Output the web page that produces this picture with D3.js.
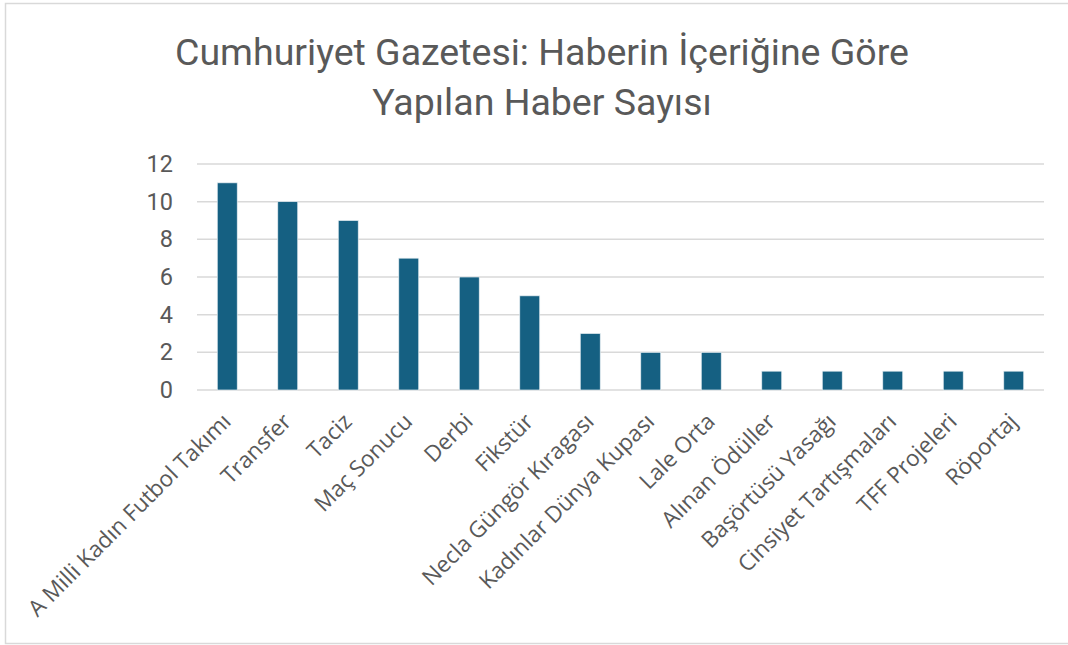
<!DOCTYPE html>
<html>
<head>
<meta charset="utf-8">
<script src="https://cdn.jsdelivr.net/npm/d3@7"></script>
<style>
  body { margin: 0; background: #fff; }
  text { fill: #595959; }
</style>
</head>
<body>
<div id="chart"></div>
<script>
let categories = ['A Milli Kadın Futbol Takımı', 'Transfer', 'Taciz', 'Maç Sonucu', 'Derbi', 'Fikstür',
  'Necla Güngör Kıragası', 'Kadınlar Dünya Kupası', 'Lale Orta', 'Alınan Ödüller', 'Başörtüsü Yasağı',
  'Cinsiyet Tartışmaları', 'TFF Projeleri', 'Röportaj']
let counts = [11, 10, 9, 7, 6, 5, 3, 2, 2, 1, 1, 1, 1, 1]
let yTicks = [0, 2, 4, 6, 8, 10, 12]
let titleLines = ['Cumhuriyet Gazetesi: Haberin İçeriğine Göre', 'Yapılan Haber Sayısı']

let W = 1068, H = 645
let plotLeft = 197, plotRight = 1044, plotTop = 164, plotBottom = 390

let svg = d3.select('#chart').append('svg')
  .attr('width', W)
  .attr('height', H)

// frame (right side runs off the picture)
svg.append('rect')
  .attr('x', 5.5).attr('y', 3.5)
  .attr('width', W + 10).attr('height', H - 5)
  .attr('fill', 'none')
  .attr('stroke', '#d9d9d9')
  .attr('stroke-width', 1.5)

svg.selectAll('text.title')
  .data(titleLines)
  .join('text')
  .attr('class', 'title')
  .attr('x', 542)
  .attr('y', (d, i) => 65 + i * 50)
  .attr('text-anchor', 'middle')
  .style('font-family', 'Roboto, sans-serif')
  .style('font-size', '37.5px')
  .text(d => d)

let x = d3.scaleBand()
  .domain(categories)
  .range([plotLeft, plotRight])
  .paddingInner(0.67)
  .paddingOuter(0.335)

let y = d3.scaleLinear()
  .domain([0, 12])
  .range([plotBottom, plotTop])

// gridlines
svg.append('g')
  .selectAll('line')
  .data(yTicks)
  .join('line')
  .attr('x1', plotLeft).attr('x2', plotRight)
  .attr('y1', d => y(d)).attr('y2', d => y(d))
  .attr('stroke', '#d9d9d9')
  .attr('stroke-width', 1.5)

// y axis labels
let yAxis = svg.append('g')
  .attr('transform', `translate(${plotLeft},0)`)
  .call(d3.axisLeft(y).tickValues(yTicks).tickSize(0).tickPadding(24))
yAxis.select('.domain').remove()
yAxis.selectAll('text')
  .style('font-family', 'Roboto, sans-serif')
  .style('font-size', '23.5px')
  .attr('fill', '#595959')

// bars
svg.append('g')
  .selectAll('rect')
  .data(counts)
  .join('rect')
  .attr('x', (d, i) => x(categories[i]))
  .attr('y', d => y(d))
  .attr('width', x.bandwidth())
  .attr('height', d => y(0) - y(d))
  .attr('fill', '#156082')
  .attr('stroke', '#e6eef2')
  .attr('stroke-width', 0.7)

// category labels, rotated
svg.append('g')
  .selectAll('text')
  .data(categories)
  .join('text')
  .attr('transform', d => `translate(${x(d) + x.bandwidth() / 2 + 5},${plotBottom + 33}) rotate(-45)`)
  .attr('text-anchor', 'end')
  .style('font-family', '"Open Sans", sans-serif')
  .style('font-size', '22.5px')
  .text(d => d)
</script>
</body>
</html>
